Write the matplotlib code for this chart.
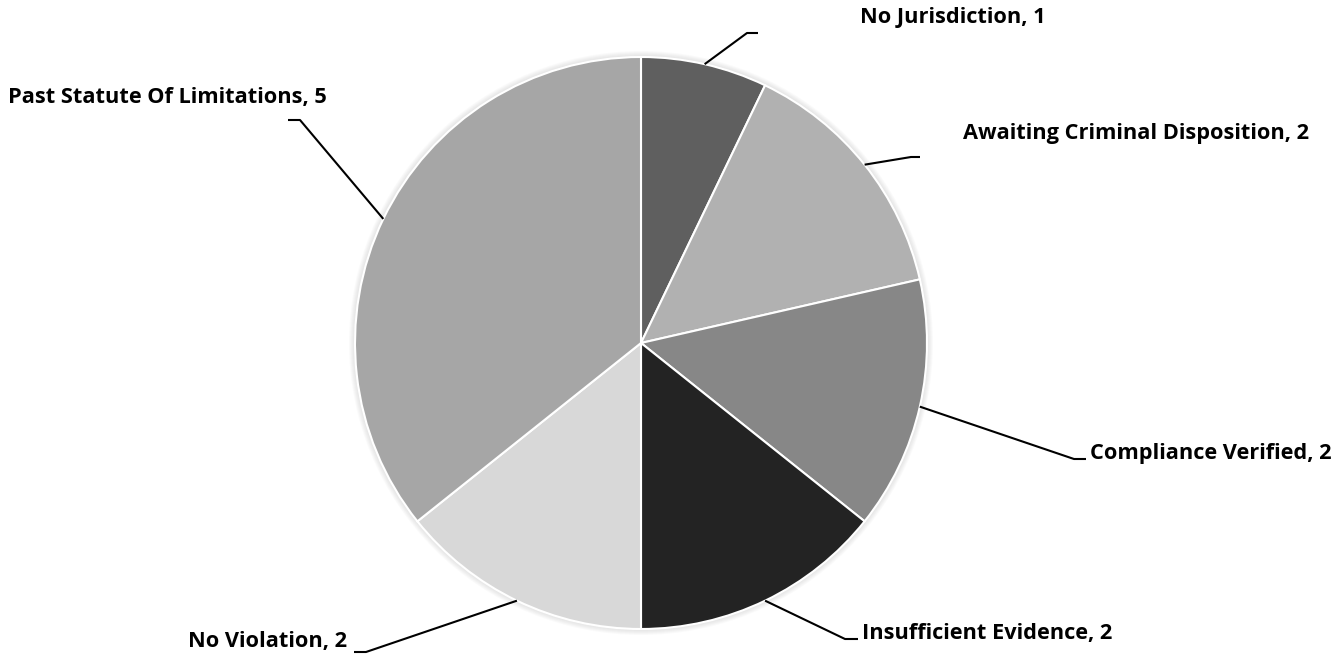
import numpy as np
import matplotlib.pyplot as plt
from matplotlib.patches import Circle

categories = ['No Jurisdiction', 'Awaiting Criminal Disposition', 'Compliance Verified',
              'Insufficient Evidence', 'No Violation', 'Past Statute Of Limitations']
counts = [1, 2, 2, 2, 2, 5]
colors = ['#5f5f5f', '#b1b1b1', '#878787', '#232323', '#d8d8d8', '#a6a6a6']

# label layout in pixel coords (y measured from top): elbow, line end, text anchor, alignment
elbows = [(747, 33), (911, 157), (1074, 459), (845, 639), (366, 652), (300, 120)]
line_ends = [(758, 33), (920, 157), (1086, 459), (858, 639), (354, 652), (288, 120)]
text_pos = [(860, 18), (963, 134), (1090, 453), (862, 633), (347, 642), (8, 97)]
text_ha = ['left', 'left', 'left', 'left', 'right', 'left']

W, H = 1344, 655
cx, cy, r = 641, H - 343, 286

fig = plt.figure(figsize=(W / 100, H / 100), dpi=100)
ax = fig.add_axes([0, 0, 1, 1])

# faint glow behind the pie
for k in range(1, 7):
    ax.add_patch(Circle((cx, cy), r + k, color='#808080', alpha=0.035, lw=0, zorder=0))

wedges, _ = ax.pie(counts, colors=colors, startangle=90, counterclock=False,
                   center=(cx, cy), radius=r,
                   wedgeprops=dict(edgecolor='white', linewidth=1.5))
for w in wedges:
    w.set_zorder(1)

for i, w in enumerate(wedges):
    ang = np.deg2rad((w.theta1 + w.theta2) / 2)
    x0, y0 = cx + r * np.cos(ang), cy + r * np.sin(ang)
    ex, ey = elbows[i]
    lx, ly = line_ends[i]
    ax.plot([x0, ex, lx], [y0, H - ey, H - ly], color='black', lw=1.5,
            solid_capstyle='butt', zorder=2)
    tx, ty = text_pos[i]
    ax.text(tx, H - ty, f'{categories[i]}, {counts[i]}', ha=text_ha[i], va='center',
            fontsize=15.7, fontweight='bold', family='Open Sans', color='black')

ax.set_xlim(0, W)
ax.set_ylim(0, H)
ax.set_aspect('auto')
ax.axis('off')

fig.savefig('out.png', dpi=100, facecolor='white')
